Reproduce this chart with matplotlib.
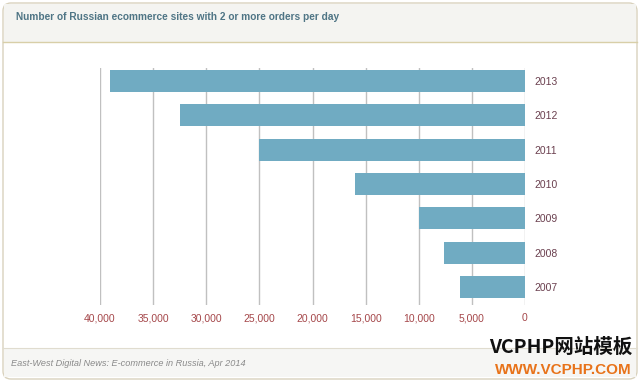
import matplotlib
matplotlib.use("Agg")
import matplotlib.pyplot as plt
from matplotlib.patches import FancyBboxPatch, Rectangle

years = ["2007", "2008", "2009", "2010", "2011", "2012", "2013"]
sites = [6100, 7600, 10000, 16000, 25000, 32500, 39100]
xticks = [40000, 35000, 30000, 25000, 20000, 15000, 10000, 5000, 0]
title = "Number of Russian ecommerce sites with 2 or more orders per day"
source = "East-West Digital News: E-commerce in Russia, Apr 2014"

W, H = 640, 383
fig = plt.figure(figsize=(W / 100, H / 100), dpi=100)
fig.patch.set_facecolor("white")

def fx(px):
    return px / W

def fy(py):
    return 1 - py / H

# frame
bg = fig.add_axes([0, 0, 1, 1], zorder=-10)
bg.set_xlim(0, W)
bg.set_ylim(H, 0)
bg.axis("off")
bg.add_patch(FancyBboxPatch((3, 3), W - 6, H - 7, boxstyle="round,pad=0,rounding_size=8",
                            facecolor="white", edgecolor="#d9d2bd", lw=1.0))
bg.add_patch(Rectangle((4, 4), W - 8, 38, facecolor="#f4f4f1", edgecolor="none"))
bg.plot([3, W - 3], [42, 42], color="#d8cfa8", lw=1.0)
bg.add_patch(Rectangle((4, 348), W - 8, 29, facecolor="#f6f6f4", edgecolor="none"))
bg.plot([3, W - 3], [348, 348], color="#e0dccf", lw=0.8)
bg.text(16, 17, title, fontsize=7.3, fontweight="bold", color="#4f7585",
        family="Liberation Sans", va="center", ha="left")
bg.text(11, 363, source, fontsize=6.6, style="italic", color="#8a8a8a",
        family="Liberation Sans", va="center", ha="left")
bg.text(632, 347, "VCPHP网站模板", fontsize=14, fontweight="bold", color="#111111",
        family=["Noto Sans CJK SC", "DejaVu Sans"], va="center", ha="right")
bg.text(632, 370, "WWW.VCPHP.COM", fontsize=11, fontweight="bold", color="#e8731a",
        family="Liberation Sans", va="center", ha="right")

# chart
left, right = 100, 525
top, bottom = 68, 305
ax = fig.add_axes([fx(left), fy(bottom), fx(right - left), (bottom - top) / H])
ax.set_facecolor("none")
y = list(range(len(years)))
ax.barh(y, sites, height=0.64, color="#70abc2", zorder=3)
ax.set_xlim(40000, 0)
ax.set_ylim(-0.52, 6.38)
ax.set_xticks(xticks)
ax.set_xticklabels([f"{v:,}" for v in xticks], fontsize=7.5, color="#a5474a",
                   family="Liberation Sans")
ax.tick_params(axis="x", length=0, pad=6)
for v in xticks:
    ax.axvline(v, color="#c0c0c0", lw=1.0, zorder=1)
ax.set_yticks(y)
ax.set_yticklabels(years, fontsize=7.5, color="#6a3f4e", family="Liberation Sans")
ax.yaxis.tick_right()
ax.tick_params(axis="y", length=0, pad=7)
for s in ax.spines.values():
    s.set_visible(False)

fig.savefig("out.png", dpi=100)
